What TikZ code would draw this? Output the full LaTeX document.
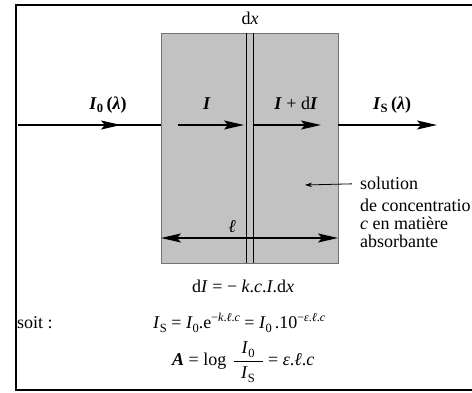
\documentclass[tikz,border=0pt]{standalone}
\usepackage{fix-cm}
\usepackage{amsmath}
\usepackage{fontspec}
\setmainfont{Liberation Serif}
\usetikzlibrary{arrows.meta,positioning}

\newcommand{\bI}{\textbf{\textit{I}}}
\newcommand{\lowtxt}[1]{\raisebox{-4pt}{\fontsize{12.5}{12.5}\selectfont #1}}
\newcommand{\hightxt}[1]{\raisebox{7.5pt}{\fontsize{12}{12}\selectfont #1}}

\begin{document}
\begin{tikzpicture}[x=1pt,y=-1pt,
  every node/.style={font=\fontsize{18}{19.5}\selectfont,inner sep=0pt},
  beam/.style={line width=1.8pt,-{Stealth[length=20pt,width=9pt,inset=4pt]}},
  beamline/.style={line width=1.8pt},
  dimline/.style={line width=1.8pt,{Stealth[length=20pt,width=9pt,inset=4pt]}-{Stealth[length=20pt,width=9pt,inset=4pt]}},
  pointer/.style={line width=0.8pt,-{Stealth[length=7pt,width=4.5pt]}},
  slab/.style={line width=0.8pt}]
\useasboundingbox (0,0) rectangle (472,393);
\clip (0,0) rectangle (472,393);

% Frame
\draw[line width=1.1pt] (16,5) rectangle (490,390);

% Cell filled with the solution
\node[draw=black!55,fill=black!24,line width=0.6pt,minimum width=177pt,minimum height=230pt,anchor=north west] (cell) at (161,33) {};

% Thin slab of thickness dx
\draw[slab] (246,33) -- (246,263);
\draw[slab] (253,33) -- (253,263);
\node[anchor=base] (labdx) at (250,25) {d\textit{x}};

% Beam
\coordinate (src) at (18,125);
\coordinate (mid0) at (121,125);
\coordinate (cin) at (161,125);
\coordinate (iA) at (178,125);
\coordinate (iB) at (244,125);
\coordinate (jA) at (254,125);
\coordinate (jB) at (321,125);
\coordinate (cout) at (338,125);
\coordinate (exit) at (437,125);
\draw[beamline] (src) -- (cin);
\draw[beam] (src) -- (mid0);
\draw[beam] (iA) -- (iB);
\draw[beam] (jA) -- (jB);
\draw[beam] (cout) -- (exit);

\node[anchor=base] (lab0) at (108,110) {\bI$_{\textbf{0}}$\,\textbf{(\textit{λ})}};
\node[anchor=base] (labI) at (207,110) {\bI};
\node[anchor=base] (labdI) at (296,110) {\bI{} + d\bI};
\node[anchor=base] (labS) at (392,110) {\bI$_{\textbf{S}}$\,\textbf{(\textit{λ})}};

% Path length
\coordinate (lA) at (161,238);
\coordinate (lB) at (338,238);
\draw[dimline] (lA) -- (lB);
\node[anchor=base] (labl) at (232,233) {\textit{ℓ}};

% Solution label
\node[anchor=base west] (sol) at (360,190) {solution};
\node[anchor=base west] (sol2) at (360,212) {de concentratio};
\node[anchor=base west] (sol3) at (360,230) {\textit{c} en matière};
\node[anchor=base west] (sol4) at (360,248) {absorbante};
\coordinate (solpt) at (305,185);
\draw[pointer] ([xshift=-8pt]sol.west) -- (solpt);

% Equations
\node[anchor=base west] (eqd) at (192,293) {d\textit{I} = − \textit{k}.\textit{c}.\textit{I}.d\textit{x}};
\node[anchor=base west] (soit) at (17,328) {soit :};
\node[anchor=base west] (eqs) at (153,329)
  {\textit{I}\lowtxt{S} = \textit{I}\lowtxt{0}.e\hightxt{−\textit{k}.\textit{ℓ}.\textit{c}} = \textit{I}\lowtxt{0}\,.10\hightxt{−\textit{ε}.\textit{ℓ}.\textit{c}}};
\node[anchor=base west] (eqa) at (172,366)
  {\textbf{\textit{A}} = log\hspace{6pt}$\dfrac{\text{\hspace{8pt}\textit{I}\lowtxt{0}\hspace{8pt}}}{\text{\textit{I}\lowtxt{S}}}$ = \textit{ε}.\textit{ℓ}.\textit{c}};
\end{tikzpicture}
\end{document}
